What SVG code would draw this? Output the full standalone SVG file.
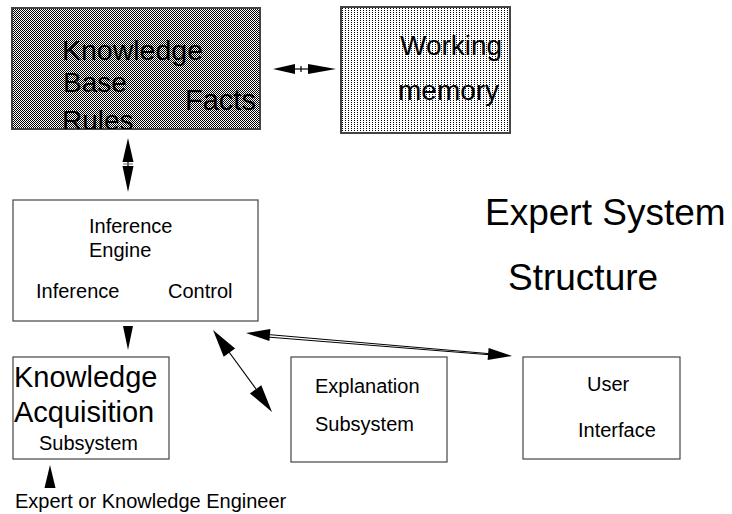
<svg xmlns="http://www.w3.org/2000/svg" width="732" height="514" viewBox="0 0 732 514">
  <defs>
    <!-- dense 1px checkerboard fill -->
    <pattern id="checker" patternUnits="userSpaceOnUse" width="2" height="2">
      <rect width="2" height="2" fill="#fff" shape-rendering="crispEdges"/>
      <rect x="0" y="0" width="1" height="1" fill="#000" shape-rendering="crispEdges"/>
      <rect x="1" y="1" width="1" height="1" fill="#000" shape-rendering="crispEdges"/>
    </pattern>
    <!-- sparse dot fill -->
    <pattern id="dots" patternUnits="userSpaceOnUse" width="3" height="2">
      <rect width="3" height="2" fill="#fff" shape-rendering="crispEdges"/>
      <rect x="0" y="0" width="1" height="1" fill="#000" shape-rendering="crispEdges"/>
    </pattern>
    <clipPath id="kbClip">
      <rect x="12" y="8" width="248" height="121"/>
    </clipPath>
    <style>
      text { font-family: "Liberation Sans", Arial, sans-serif; fill: #000; }
      .box { fill: #fff; stroke: #444; stroke-width: 1.2; }
      .head { fill: #000; stroke: none; }
      .line { stroke: #000; stroke-width: 1.2; fill: none; }
      .big { font-size: 28px; }
      .mid { font-size: 20px; }
      .title { font-size: 37px; }
    </style>
  </defs>

  <rect width="732" height="514" fill="#fff"/>

  <!-- Knowledge Base -->
  <g id="knowledge-base">
    <rect x="12" y="8" width="248" height="121" fill="url(#checker)" stroke="#444" stroke-width="1.2" shape-rendering="crispEdges"/>
    <g clip-path="url(#kbClip)" class="big">
      <text x="62" y="60" font-size="28.5">Knowledge</text>
      <text x="63" y="92">Base</text>
      <text x="185" y="110" font-size="29">Facts</text>
      <text x="62" y="130">Rules</text>
    </g>
  </g>

  <!-- Working memory -->
  <g id="working-memory">
    <rect x="341" y="7" width="169" height="126" fill="url(#dots)" stroke="#444" stroke-width="1.2" shape-rendering="crispEdges"/>
    <text class="big" x="400" y="55">Working</text>
    <text class="big" x="398" y="100">memory</text>
  </g>

  <!-- Inference Engine -->
  <g id="inference-engine">
    <rect class="box" x="13" y="200" width="245" height="121"/>
    <text class="mid" x="89" y="233">Inference</text>
    <text class="mid" x="89" y="257">Engine</text>
    <text class="mid" x="36" y="298">Inference</text>
    <text class="mid" x="168" y="298">Control</text>
  </g>

  <!-- Knowledge Acquisition Subsystem -->
  <g id="knowledge-acquisition">
    <rect class="box" x="13" y="357" width="156" height="102"/>
    <text x="14" y="387" font-size="29">Knowledge</text>
    <text x="14" y="422" font-size="29">Acquisition</text>
    <text class="mid" x="39" y="450" font-size="21">Subsystem</text>
  </g>

  <!-- Explanation Subsystem -->
  <g id="explanation-subsystem">
    <rect class="box" x="291" y="357" width="156" height="105"/>
    <text class="mid" x="315" y="393">Explanation</text>
    <text class="mid" x="315" y="431">Subsystem</text>
  </g>

  <!-- User Interface -->
  <g id="user-interface">
    <rect class="box" x="523" y="357" width="157" height="102"/>
    <text class="mid" x="587" y="391">User</text>
    <text class="mid" x="578" y="437">Interface</text>
  </g>

  <!-- Title -->
  <g id="title">
    <text class="title" x="485" y="225">Expert System</text>
    <text class="title" x="508" y="290">Structure</text>
  </g>

  <!-- Expert or Knowledge Engineer label -->
  <g id="expert-label">
    <text class="mid" x="15" y="508">Expert or Knowledge Engineer</text>
  </g>

  <!-- Connectors -->
  <g id="connectors">
    <!-- knowledge base <-> working memory -->
    <polygon class="head" points="273,69 295,64 295,74"/>
    <line class="line" x1="295" y1="69" x2="308" y2="69"/>
    <line class="line" x1="301" y1="66" x2="301" y2="72"/>
    <polygon class="head" points="336,69 308,64 308,74"/>

    <!-- knowledge base <-> inference engine -->
    <polygon class="head" points="128,138 122.5,162 133.5,162"/>
    <line class="line" x1="128" y1="162" x2="128" y2="166"/>
    <line x1="123" y1="164" x2="133" y2="164" stroke="#666" stroke-width="1"/>
    <polygon class="head" points="128,192 122.5,166 133.5,166"/>

    <!-- inference engine -> knowledge acquisition -->
    <polygon class="head" points="123,326 133,326 128,350"/>

    <!-- expert -> knowledge acquisition -->
    <polygon class="head" points="50,465 44.5,488 55.5,488"/>

    <!-- inference engine <-> explanation subsystem -->
    <line class="line" x1="229" y1="352" x2="256" y2="389"/>
    <polygon class="head" points="213,330 223.7,356.8 235.1,348.6"/>
    <polygon class="head" points="272,412 249.9,393.4 261.3,385.2"/>

    <!-- inference engine <-> user interface -->
    <line x1="262" y1="334" x2="500" y2="354.6" stroke="#000" stroke-width="1"/>
    <line x1="262" y1="336.6" x2="500" y2="355.6" stroke="#000" stroke-width="1"/>
    <polygon class="head" points="246,333 269.4,341.1 270.4,329.1"/>
    <polygon class="head" points="512,356 487.6,359.9 488.6,347.9"/>
  </g>
</svg>
